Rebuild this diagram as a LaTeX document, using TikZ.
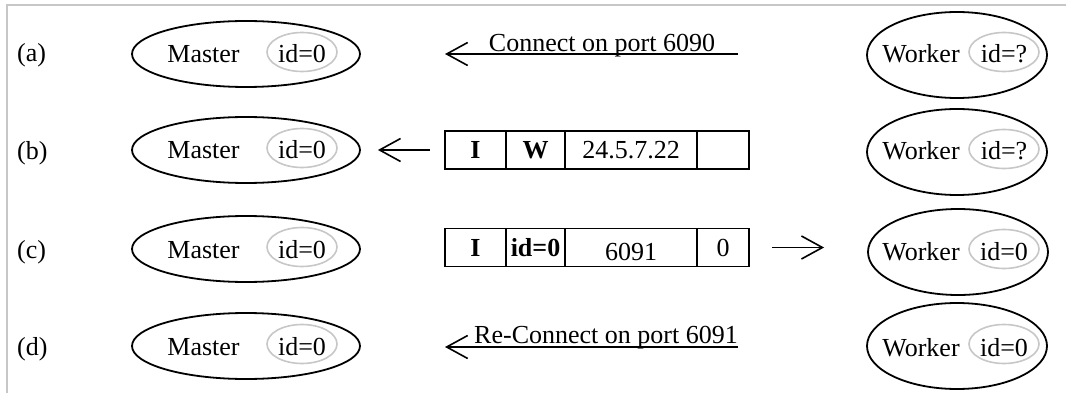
\documentclass[tikz,border=0pt]{standalone}
\usepackage{fontspec}
\setmainfont{Liberation Serif}
\usetikzlibrary{shapes.geometric,arrows.meta}

\begin{document}
\begin{tikzpicture}[x=1pt,y=-1pt,
  font=\fontsize{26}{30}\selectfont,
  frameline/.style={draw=black!22,line width=2.4pt},
  outer/.style={draw,ellipse,line width=1.8pt,inner sep=0pt},
  master/.style={outer,minimum width=228pt,minimum height=66pt},
  worker/.style={outer,minimum width=180pt,minimum height=86pt},
  idtag/.style={draw=black!22,ellipse,line width=1.6pt,minimum width=70pt,minimum height=39pt,inner sep=0pt},
  txt/.style={anchor=base,inner sep=0pt},
  rowlabel/.style={anchor=base west,inner sep=0pt},
  cell/.style={draw,line width=1.8pt,minimum height=38pt,inner sep=0pt,outer sep=0pt,
    anchor=west,text height=18pt,text depth=0pt},
  arr/.style={-{Straight Barb[length=21pt,width=23pt,line width=1.6pt]},line width=1.8pt},
]
\useasboundingbox (0,0) rectangle (1066,393);

% frame
\draw[frameline] (6,5) -- (1066,5);
\draw[frameline] (7,5) -- (7,393);

% row labels
\node[rowlabel] (la) at (17,62) {(a)};
\node[rowlabel] (lb) at (17,160) {(b)};
\node[rowlabel] (lc) at (17,258) {(c)};
\node[rowlabel] (ld) at (17,355) {(d)};

% ---------- row (a)
\node[master] (ma) at (246,54) {};
\node[txt] (mat) at (203.5,63) {Master};
\node[idtag] (mai) at (302,52) {};
\node[txt] (mait) at (302,63) {id=0};

\node[worker] (wa) at (957,55) {};
\node[txt] (wat) at (921,63) {Worker};
\node[idtag] (wai) at (1004,52) {};
\node[txt] (wait) at (1004,63) {id=?};

\coordinate (a1) at (738,54);
\coordinate (a0) at (445,54);
\draw[arr] (a1) -- (a0);
\node[txt] (atext) at (602,52) {Connect on port 6090};

% ---------- row (b)
\node[master] (mb) at (246,150) {};
\node[txt] (mbt) at (203.5,159) {Master};
\node[idtag] (mbi) at (302,148) {};
\node[txt] (mbit) at (302,159) {id=0};

\node[worker] (wb) at (957,152) {};
\node[txt] (wbt) at (921,160) {Worker};
\node[idtag] (wbi) at (1004,149) {};
\node[txt] (wbit) at (1004,160) {id=?};

\node[cell,minimum width=61pt] (b1) at (445,150) {\textbf{I}};
\node[cell,minimum width=59pt] (b2) at (506,150) {\textbf{W}};
\node[cell,minimum width=132pt] (b3) at (565,150) {24.5.7.22};
\node[cell,minimum width=52pt] (b4) at (697,150) {};
\draw[arr,shorten <=15pt,shorten >=17pt] (b1.west) -- (mb.east |- b1.west);

% ---------- row (c)
\node[master] (mc) at (246,249) {};
\node[txt] (mct) at (203.5,258) {Master};
\node[idtag] (mci) at (302,247) {};
\node[txt] (mcit) at (302,258) {id=0};

\node[worker] (wc) at (958,252) {};
\node[txt] (wct) at (921,260) {Worker};
\node[idtag] (wci) at (1004,249) {};
\node[txt] (wcit) at (1004,260) {id=0};

\node[cell,minimum width=61pt] (c1) at (445,247.5) {\textbf{I}};
\node[cell,minimum width=59pt] (c2) at (506,247.5) {\textbf{id=0}};
\node[cell,minimum width=132pt] (c3) at (565,247.5) {\raisebox{-4pt}{6091}};
\node[cell,minimum width=52pt] (c4) at (697,247.5) {0};
\draw[arr,shorten <=23pt,shorten >=43pt] (c4.east) -- (wc.west |- c4.east);

% ---------- row (d)
\node[master] (md) at (246,346) {};
\node[txt] (mdt) at (203.5,355) {Master};
\node[idtag] (mdi) at (302,344) {};
\node[txt] (mdit) at (302,355) {id=0};

\node[worker] (wd) at (957,346) {};
\node[txt] (wdt) at (921,356) {Worker};
\node[idtag] (wdi) at (1004,344) {};
\node[txt] (wdit) at (1004,356) {id=0};

\coordinate (d1) at (738,347);
\coordinate (d0) at (445,347);
\draw[arr] (d1) -- (d0);
\node[txt] (dtext) at (606,343) {Re-Connect on port 6091};
\end{tikzpicture}
\end{document}
